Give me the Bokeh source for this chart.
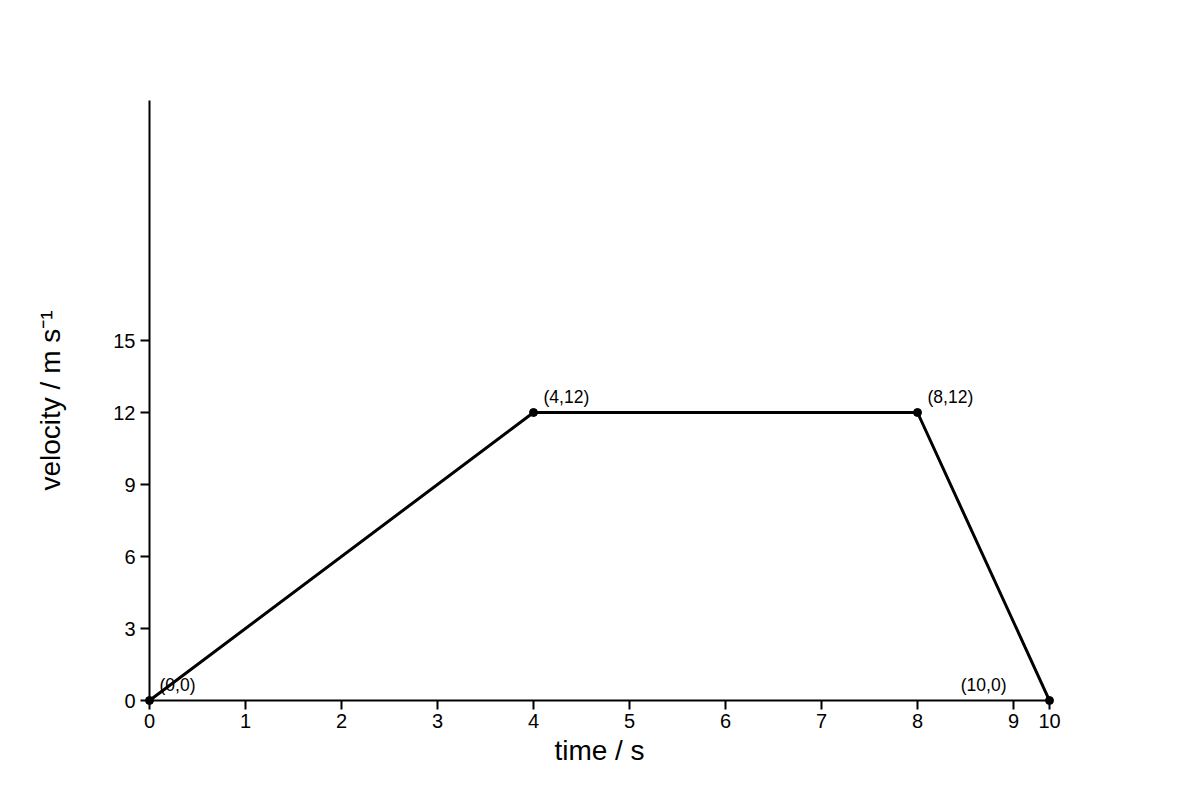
from bokeh.plotting import figure
from bokeh.models import Range1d, FixedTicker, ColumnDataSource
from bokeh.core.properties import value
from bokeh.embed import file_html
from bokeh.resources import INLINE

# data
times = [0, 4, 8, 10]
velocities = [0, 12, 12, 0]
point_labels = ["(0,0)", "(4,12)", "(8,12)", "(10,0)"]
x_ticks = [0, 1, 2, 3, 4, 5, 6, 7, 8, 9, 10]
y_ticks = [0, 3, 6, 9, 12, 15]
x_axis_end = 9.375   # where the drawn time axis ends (values beyond are clamped to it)
y_max = 25

FONT = "Liberation Sans"

# the reference clamps values past the axis end onto the axis end
plot_times = [min(t, x_axis_end) for t in times]
tick_pos = [min(t, x_axis_end) for t in x_ticks]
tick_text = {pos: str(t) for pos, t in zip(tick_pos, x_ticks)}

p = figure(
    output_backend="svg", toolbar_location=None,
    frame_width=900, frame_height=600,
    min_border_left=149, min_border_right=135, min_border_top=100, min_border_bottom=84,
    x_range=Range1d(0, x_axis_end), y_range=Range1d(0, y_max),
)
p.outline_line_color = None
p.xgrid.visible = False
p.ygrid.visible = False
p.background_fill_color = "white"
p.border_fill_color = "white"

p.xaxis.ticker = FixedTicker(ticks=tick_pos)
p.xaxis.major_label_overrides = tick_text
p.yaxis.ticker = FixedTicker(ticks=y_ticks)
p.xaxis.axis_label = "time / s"
p.yaxis.axis_label = "velocity / m s\u207b\u00b9"
for ax in (p.xaxis[0], p.yaxis[0]):
    ax.axis_line_color = "black"
    ax.axis_line_width = 2
    ax.major_tick_line_color = "black"
    ax.major_tick_line_width = 2
    ax.major_tick_in = 0
    ax.major_tick_out = 9
    ax.minor_tick_line_color = None
    ax.major_label_text_font = FONT
    ax.major_label_text_font_size = "20px"
    ax.major_label_text_color = "black"
    ax.axis_label_text_font = FONT
    ax.axis_label_text_font_size = "28px"
    ax.axis_label_text_font_style = "normal"
    ax.axis_label_text_color = "black"
p.xaxis.major_label_standoff = 4
p.xaxis.axis_label_standoff = 4
p.yaxis.major_label_standoff = 5
p.yaxis.axis_label_standoff = 44

src = ColumnDataSource(dict(x=plot_times, y=velocities, label=point_labels))
p.line("x", "y", source=src, line_color="black", line_width=3, level="overlay")
p.scatter("x", "y", source=src, size=8, fill_color="black", line_color="black",
          level="overlay")

left_src = ColumnDataSource(dict(x=plot_times[:3], y=velocities[:3], label=point_labels[:3]))
p.text("x", "y", text="label", source=left_src, x_offset=10, y_offset=-16,
       text_font=value(FONT), text_font_size="17.5px", text_color="black",
       text_align="left", text_baseline="middle")
right_src = ColumnDataSource(dict(x=plot_times[3:], y=velocities[3:], label=point_labels[3:]))
p.text("x", "y", text="label", source=right_src, x_offset=-43, y_offset=-16,
       text_font=value(FONT), text_font_size="17.5px", text_color="black",
       text_align="right", text_baseline="middle")

open("out.html", "w").write(file_html(p, INLINE))
